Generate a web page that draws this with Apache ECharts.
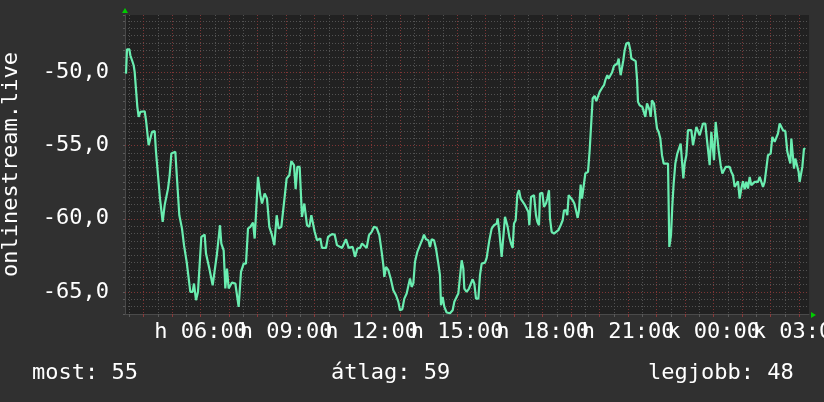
<!DOCTYPE html>
<html><head><meta charset="utf-8">
<script src="https://cdn.jsdelivr.net/npm/echarts@6/dist/echarts.min.js"></script>
<style>html,body{margin:0;padding:0;background:#303030;}#c{width:824px;height:402px;}</style>
</head><body><div id="c"></div>
<script>
// time of each sample, in hours (24 = next day's 00:00)
const hours = [
3.379,3.414,3.496,3.531,3.590,3.648,3.683,3.742,3.777,3.823,
3.882,4.034,4.081,4.139,4.174,4.233,4.291,4.385,4.432,4.502,
4.572,4.619,4.666,4.736,4.794,4.853,4.911,4.970,5.110,5.168,
5.250,5.297,5.344,5.414,5.461,5.508,5.578,5.636,5.718,5.765,
5.835,5.905,5.952,6.022,6.139,6.186,6.303,6.420,6.490,6.572,
6.677,6.724,6.806,6.864,6.923,6.981,7.040,7.098,7.215,7.332,
7.367,7.414,7.508,7.589,7.660,7.741,7.835,7.894,8.010,8.092,
8.151,8.244,8.326,8.408,8.502,8.584,8.666,8.736,8.829,8.934,
9.016,9.110,9.180,9.274,9.332,9.391,9.473,9.554,9.636,9.730,
9.812,9.882,9.999,10.081,10.198,10.256,10.396,10.467,10.607,10.700,
10.782,10.958,11.098,11.192,
11.239,11.332,11.414,11.496,11.590,11.660,11.730,11.823,11.905,11.999,
12.081,12.174,12.268,12.350,12.408,12.443,12.502,12.584,12.666,12.759,
12.853,12.935,12.993,13.075,13.145,13.227,13.285,13.344,13.402,13.461,
13.519,13.601,13.695,13.788,13.835,13.905,13.987,14.046,14.104,14.186,
14.256,14.338,14.396,14.432,14.490,14.549,14.630,14.747,14.841,14.899,
14.981,15.040,15.098,15.157,15.215,15.250,15.332,15.414,15.473,15.543,
15.601,15.660,15.742,15.800,15.859,15.976,16.034,16.128,16.209,16.291,
16.385,16.420,16.478,16.560,16.619,16.677,16.736,16.771,16.829,16.888,
16.946,16.993,17.052,17.110,17.169,17.227,17.297,17.379,17.438,17.496,
17.531,17.590,17.695,17.765,17.812,17.870,17.905,17.987,18.045,18.116,
18.162,18.221,18.256,18.315,18.397,18.467,18.549,18.631,18.701,18.747,
18.818,18.864,18.911,18.981,19.051,19.110,19.168,19.227,
19.274,19.332,19.379,19.449,19.496,19.590,19.648,19.707,19.753,19.823,
19.882,19.940,19.999,20.081,20.151,20.198,20.268,20.315,20.385,20.432,
20.502,20.560,20.619,20.666,20.701,20.736,20.794,20.829,20.876,20.934,
21.016,21.075,21.110,21.180,21.262,21.309,21.344,21.402,21.496,21.554,
21.601,21.660,21.718,21.753,21.788,21.835,21.905,21.964,22.011,22.069,
22.128,22.186,22.245,22.397,22.443,22.502,22.549,22.595,22.654,22.724,
22.783,22.841,22.888,22.935,22.981,23.040,23.098,23.157,23.215,23.274,
23.332,23.391,23.449,23.508,23.566,23.625,23.706,23.753,23.800,23.859,
23.917,23.975,24.011,24.069,24.128,24.174,24.245,24.303,24.362,24.420,
24.560,24.619,24.677,24.736,24.794,24.853,24.911,24.970,25.028,25.087,
25.145,25.204,25.262,25.321,25.379,25.438,25.496,25.554,25.613,25.671,
25.730,25.788,25.847,25.905,25.999,26.058,26.139,26.198,26.256,26.315,
26.373,26.432,26.513,26.584,26.642,26.689,26.724,26.783,26.818,26.864,
26.923,26.981,27.016,27.075,27.110,27.168,27.215
];
// signal level values
const levels = [
-50.09,-48.43,-48.43,-48.84,-49.18,-49.52,-49.97,-49.97,-52.36,-53.04,
-52.70,-52.66,-53.27,-53.27,-54.98,-54.98,-54.07,-54.02,-55.43,-57.03,
-58.62,-58.73,-60.21,-59.07,-58.96,-57.94,-57.03,-55.55,-55.43,-57.25,
-59.76,-59.87,-60.67,-61.80,-61.92,-62.94,-62.83,-64.99,-64.99,-64.42,
-65.56,-64.99,-64.99,-61.24,-61.08,-62.37,-63.40,-64.54,-64.54,-62.37,
-60.44,-61.69,-62.15,-64.76,-63.40,-64.76,-64.65,-64.35,-64.42,-66.01,
-66.01,-63.63,-63.06,-63.06,-60.67,-60.55,-60.26,-61.35,-57.14,-58.39,
-58.96,-58.28,-58.62,-60.55,-61.12,-61.80,-59.76,-60.67,-60.55,-58.73,
-57.25,-57.03,-56.07,-56.34,-57.98,-56.46,-56.46,-59.87,-58.96,-60.44,
-60.55,-59.76,-60.89,-61.46,-61.35,-61.99,-61.99,-61.24,-61.05,-61.08,
-61.80,-61.99,-61.40,-61.99,
-61.92,-61.92,-62.60,-62.03,-61.99,-61.69,-61.76,-61.99,-61.12,-60.89,
-60.55,-60.62,-61.12,-62.26,-63.17,-63.97,-63.28,-63.51,-64.08,-64.88,
-65.22,-65.67,-66.24,-66.17,-65.45,-65.10,-64.99,-64.08,-64.65,-64.42,
-62.94,-62.26,-61.80,-61.35,-61.08,-61.40,-61.46,-61.92,-61.40,-61.46,
-62.03,-63.06,-63.85,-65.90,-65.33,-66.01,-66.40,-66.45,-66.24,-65.67,
-65.33,-65.10,-64.99,-62.83,-63.40,-64.76,-64.99,-64.76,-64.88,-64.13,
-64.42,-65.45,-65.45,-63.85,-63.06,-62.99,-62.67,-61.46,-60.67,-60.44,
-60.33,-59.98,-60.89,-62.60,-62.49,-59.87,-59.76,-60.55,-61.24,-61.69,
-61.99,-60.33,-60.10,-58.35,-58.05,-58.62,-58.73,-59.07,-59.30,-59.53,
-60.44,-58.51,-58.39,-59.76,-60.21,-60.44,-58.28,-58.23,-59.19,-58.96,
-58.62,-58.05,-59.98,-60.89,-61.01,-60.89,-60.78,-60.44,-60.10,-59.42,
-59.42,-59.76,-58.39,-58.57,-58.73,-58.96,-59.42,-59.94,
-59.42,-57.66,-58.62,-58.62,-56.91,-56.80,-55.32,-55.21,-51.79,-51.61,
-51.97,-52.02,-51.34,-51.07,-50.88,-50.54,-50.20,-50.43,-50.38,-50.02,
-49.56,-49.52,-49.40,-49.06,-49.75,-50.20,-50.25,-49.18,-48.49,-48.04,
-47.97,-48.49,-49.06,-49.18,-49.24,-50.43,-52.02,-52.25,-52.36,-52.48,
-53.04,-52.13,-52.02,-52.59,-53.04,-51.91,-52.13,-52.25,-53.84,-54.07,
-54.52,-55.66,-56.23,-56.23,-61.92,-61.12,-59.07,-57.60,-56.23,-55.55,
-55.43,-54.87,-54.80,-57.25,-56.23,-55.66,-53.95,-53.84,-53.95,-54.98,
-54.98,-53.73,-53.66,-54.30,-54.30,-53.50,-53.50,-54.41,-54.52,-56.34,
-54.07,-54.07,-56.00,-53.39,-53.43,-55.32,-56.34,-56.91,-56.98,-56.46,
-56.46,-56.80,-57.03,-57.82,-57.71,-57.44,-58.62,-57.94,-57.44,-57.98,
-57.48,-57.94,-57.14,-57.71,-57.75,-57.48,-57.37,-57.48,-57.14,-57.25,
-57.82,-57.48,-57.48,-55.66,-55.55,-54.41,-54.75,-54.64,-54.18,-53.50,
-53.50,-53.95,-54.02,-55.43,-55.48,-56.23,-54.52,-54.64,-56.57,-55.89,
-55.77,-56.80,-57.48,-57.44,-56.46,-55.21,-55.25
];
const xLabelHours = [6, 9, 12, 15, 18, 21, 24, 27];
const xLabelTexts = ['h 06:00','h 09:00','h 12:00','h 15:00','h 18:00','h 21:00','k 00:00','k 03:00'];
const yLabelValues = [-65, -60, -55, -50];
const axisTitle = 'onlinestream.live';
const statNames = ['most', 'átlag', 'legjobb'];
const statValues = [55, 59, 48];
const xRange = [3.344, 27.344];
const yRange = [-66.5, -46.09];

const FONT = 'DejaVu Sans Mono';
const minorColor = '#525252', majorColor = '#7e3535';
const minorX = [], majorX = [];
for (let t = 3.5; t < xRange[1]; t += 0.5) (t % 1 === 0 ? majorX : minorX).push(t);
// labels split over two axes so neighbours on one axis never overlap
const labelsA = xLabelHours.filter((h, i) => i % 2 === 0);
const labelsB = xLabelHours.filter((h, i) => i % 2 === 1);
const fmtX = v => xLabelTexts[xLabelHours.indexOf(v)];
const xLabelStyle = vals => ({ show: true, customValues: vals, showMinLabel: true, showMaxLabel: true, hideOverlap: false,
  color: '#ffffff', fontFamily: FONT, fontSize: 22, margin: 7, formatter: fmtX });

// plot frame (pixels)
const P = { left: 125, right: 15, top: 15, bottom: 88 };
const pw = 824 - P.left - P.right, ph = 402 - P.top - P.bottom;
const pxPerHour = pw / (xRange[1] - xRange[0]);
const pxPerUnit = ph / (yRange[1] - yRange[0]);
const gridBase = { top: P.top, bottom: P.bottom, left: P.left, right: P.right, outerBoundsMode: 'none', containLabel: false };
const hidden = { axisLine: { show: false }, axisTick: { show: false }, axisLabel: { show: false }, splitLine: { show: false } };
const gridLineStyle = c => ({ show: true, showMinLine: true, showMaxLine: false, lineStyle: { color: c, width: 1, type: [1, 2] } });

const chart = echarts.init(document.getElementById('c'));
const statX = [32, 331, 648];
chart.setOption({
  animation: false,
  backgroundColor: '#303030',
  grid: [
    Object.assign({}, gridBase, { show: true, backgroundColor: '#212121', borderWidth: 0 }),
    Object.assign({}, gridBase, { left: P.left + (3.5 - xRange[0]) * pxPerHour }),
    Object.assign({}, gridBase, { left: P.left + (4 - xRange[0]) * pxPerHour }),
    Object.assign({}, gridBase, { bottom: P.bottom + (-65 - yRange[0]) * pxPerUnit })
  ],
  xAxis: [
    { gridIndex: 0, type: 'value', min: xRange[0], max: xRange[1], position: 'bottom',
      axisLine: { show: true, lineStyle: { color: '#4a4a4a', width: 1 } },
      axisTick: { show: true, customValues: minorX, length: 3, lineStyle: { color: '#5a5a5a' } },
      axisLabel: xLabelStyle(labelsA),
      splitLine: { show: false } },
    { gridIndex: 0, type: 'value', min: xRange[0], max: xRange[1], position: 'bottom',
      axisLine: { show: false },
      axisTick: { show: true, customValues: majorX, length: 3, lineStyle: { color: '#8a3a3a' } },
      axisLabel: xLabelStyle(labelsB), splitLine: { show: false } },
    Object.assign({ gridIndex: 1, type: 'value', min: 3.5, max: xRange[1], interval: 0.5 }, hidden, { splitLine: gridLineStyle(minorColor) }),
    Object.assign({ gridIndex: 2, type: 'value', min: 4, max: xRange[1], interval: 1, z: 1 }, hidden, { splitLine: gridLineStyle(majorColor) }),
    Object.assign({ gridIndex: 3, type: 'value', min: xRange[0], max: xRange[1] }, hidden)
  ],
  yAxis: [
    { gridIndex: 0, type: 'value', min: yRange[0], max: yRange[1], interval: 0.5, position: 'left',
      name: axisTitle, nameLocation: 'middle', nameGap: 103,
      nameTextStyle: { color: '#ffffff', fontFamily: FONT, fontSize: 22 },
      axisLine: { show: true, lineStyle: { color: '#4a4a4a', width: 1 } },
      axisTick: { show: true, length: 2, lineStyle: { color: '#5a5a5a' } },
      axisLabel: { show: true, customValues: yLabelValues, showMinLabel: true, showMaxLabel: true,
        color: '#ffffff', fontFamily: FONT, fontSize: 22, margin: 16,
        formatter: v => v.toFixed(1).replace('.', ',') },
      splitLine: { show: true, showMinLine: false, showMaxLine: false, lineStyle: { color: minorColor, width: 1, type: [1, 2] } } },
    Object.assign({ gridIndex: 1, type: 'value', min: yRange[0], max: yRange[1] }, hidden),
    Object.assign({ gridIndex: 2, type: 'value', min: yRange[0], max: yRange[1] }, hidden),
    Object.assign({ gridIndex: 3, type: 'value', min: -65, max: yRange[1], interval: 5, z: 1 }, hidden, { splitLine: gridLineStyle(majorColor) })
  ],
  series: [{
    type: 'line', xAxisIndex: 0, yAxisIndex: 0, showSymbol: false, symbol: 'none',
    data: hours.map((h, i) => [h, levels[i]]),
    lineStyle: { color: '#6aedb0', width: 2.2 }, z: 10
  }],
  graphic: [
    { type: 'polygon', shape: { points: [[122, 13], [128, 13], [125, 8]] }, style: { fill: '#00cc00' }, z: 100 },
    { type: 'polygon', shape: { points: [[811, 312], [811, 318], [816, 315]] }, style: { fill: '#00cc00' }, z: 100 }
  ].concat(statNames.map((n, i) => ({
    type: 'text', x: statX[i], y: 373.5, z: 100,
    style: { text: n + ': ' + statValues[i], fill: '#ffffff', font: '22px "DejaVu Sans Mono"', verticalAlign: 'middle', align: 'left' }
  })))
});
</script></body></html>
